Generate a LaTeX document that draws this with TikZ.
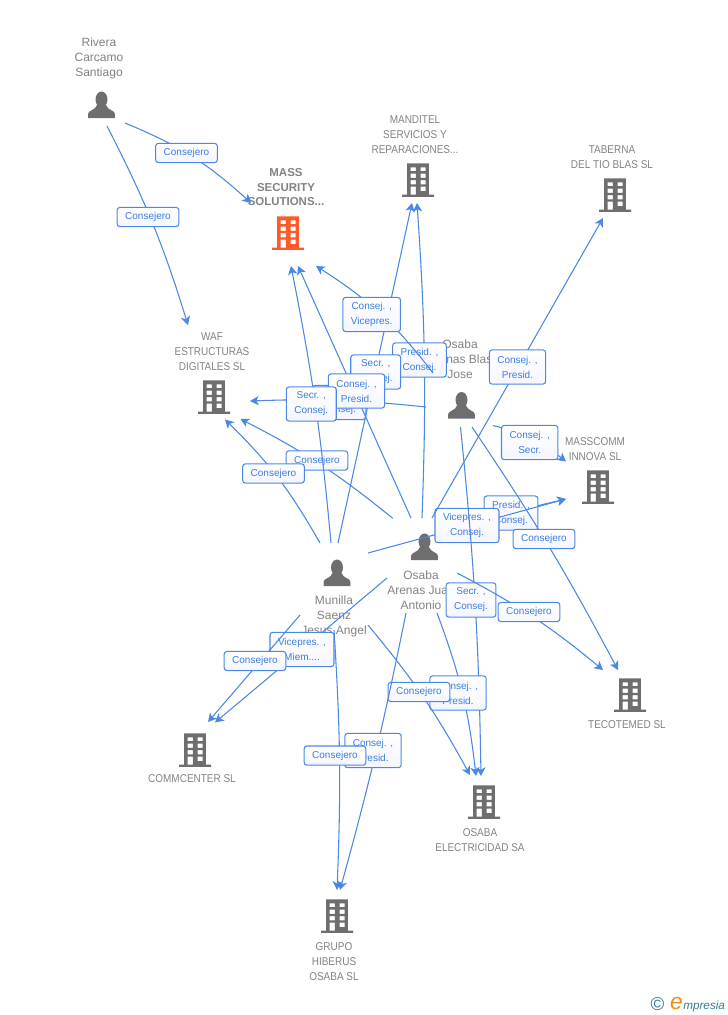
\documentclass[tikz,border=0pt]{standalone}
\usepackage{fontspec}
\setmainfont{Liberation Sans}
\newfontfamily\orgfont[FakeStretch=0.88]{Liberation Sans}
\usetikzlibrary{arrows.meta,positioning,shapes}
\definecolor{linkblue}{HTML}{4A88E4}
\definecolor{tagblue}{HTML}{3B7EE2}
\definecolor{namegray}{HTML}{828282}
\definecolor{icongray}{HTML}{6E6E6E}
\definecolor{mainorange}{HTML}{FF5A2B}
\definecolor{logoteal}{HTML}{2F7F96}
\definecolor{logoorange}{HTML}{F28A1E}
\tikzset{
    %Define standard arrow tip
    >={Stealth[length=6.5pt,width=7pt,inset=1.8pt]},
    %Define style for company icons
    company/.style={
           rectangle,
           inner sep=0pt,
           minimum width=27pt,
           minimum height=27pt,
           path picture={
             \fill[#1,even odd rule,shift={(path picture bounding box.center)}]
               (-10.8,-16.7) rectangle (10.8,14.7) (-16,14.7) rectangle (16,16.9)
               (-7.4,-12.7) rectangle (-2.2,-8.8) (2.6,-12.7) rectangle (7.5,-8.8)
               (-7.4,-6.5) rectangle (-2.2,-2.2) (2.6,-6.5) rectangle (7.5,-2.2)
               (-7.4,0) rectangle (-2.2,4.3) (2.6,0) rectangle (7.5,4.3)
               (-7.4,6.7) rectangle (-2.2,14.7) (2.6,6.7) rectangle (7.5,11);
           }},
    company/.default=icongray,
    %Define style for person icons
    person/.style={
           rectangle,
           inner sep=0pt,
           minimum width=24pt,
           minimum height=24pt,
           path picture={
             \fill[icongray,shift={(path picture bounding box.center)}]
               (0,-5.5) ellipse [x radius=6,y radius=8]
               (-13.4,13.2) -- (-13.4,9) .. controls (-13.4,5) and (-6,5.5) .. (-4.5,0)
               -- (4.5,0) .. controls (6,5.5) and (13.4,5) .. (13.4,9) -- (13.4,13.2) -- cycle;
           }},
    % Define text styles
    orgname/.style={
           align=center,
           inner sep=0pt,
           text=namegray,
           font=\orgfont\fontsize{8.5}{11.25}\selectfont},
    mainname/.style={
           align=center,
           inner sep=0pt,
           text=namegray,
           font=\bfseries\fontsize{8.6}{10.9}\selectfont},
    personname/.style={
           align=center,
           inner sep=0pt,
           text=namegray,
           font=\fontsize{9}{11.25}\selectfont},
    % Define style for role boxes
    role/.style={
           rectangle,
           rounded corners=2pt,
           draw=linkblue,
           line width=.8pt,
           top color=white,
           bottom color=blue!4!white,
           inner xsep=6pt,
           inner ysep=0pt,
           minimum height=14.4pt,
           align=center,
           text=tagblue,
           font=\fontsize{7.5}{11.25}\selectfont},
    roletwo/.style={role,minimum height=25.6pt},
    % Define arrow style
    pil/.style={
           ->,
           linkblue,
           line width=.8pt}
}
\begin{document}
\begin{tikzpicture}[x=.75pt,y=-.75pt]
\useasboundingbox (0,0) rectangle (728,1015);
% people
\node[person](rivera) at (101.5,105){};
\node[person](blas) at (461.5,405.5){};
\node[person](juan) at (424.5,547){};
\node[person](munilla) at (337,573){};
% companies
\node[company=mainorange](mass) at (288,233){};
\node[company](manditel) at (418,180){};
\node[company](taberna) at (615,195){};
\node[company](waf) at (214,397){};
\node[company](masscomm) at (598,487){};
\node[company](tecotemed) at (630,695){};
\node[company](elec) at (484,802){};
\node[company](commcenter) at (195,750){};
\node[company](grupo) at (337,916){};
% names
\node[personname](riveraname) at (99,58){Rivera\\Carcamo\\Santiago};
\node[personname](blasname) at (460,359){Osaba\\Arenas Blas\\Jose};
\node[personname](juanname) at (421,590){Osaba\\Arenas Juan\\Antonio};
\node[personname](munillaname) at (334,616){Munilla\\Saenz\\Jesus Angel};
\node[mainname](massname) at (286,187.5){MASS\\SECURITY\\SOLUTIONS...};
\node[orgname](manditelname) at (415,135){MANDITEL\\SERVICIOS Y\\REPARACIONES...};
\node[orgname](tabernaname) at (612,157.5){TABERNA\\DEL TIO BLAS SL};
\node[orgname](wafname) at (212,352){WAF\\ESTRUCTURAS\\DIGITALES SL};
\node[orgname](masscommname) at (595,449.5){MASSCOMM\\INNOVA SL};
\node[orgname](tecotemedname) at (627,725){TECOTEMED SL};
\node[orgname](elecname) at (480,840.5){OSABA\\ELECTRICIDAD SA};
\node[orgname](commcentername) at (192,779){COMMCENTER SL};
\node[orgname](gruponame) at (334,962){GRUPO\\HIBERUS\\OSABA SL};
% connector ends
\coordinate(rivera1) at (125,123);
\coordinate(rivera2) at (107,126);
\coordinate(blas1) at (426,407);
\coordinate(blas2) at (433,373);
\coordinate(blas3) at (493,425.5);
\coordinate(blas4) at (472,427);
\coordinate(blas5) at (460.5,427);
\coordinate(juan1) at (422,518);
\coordinate(juan2) at (392.7,518.3);
\coordinate(juan3) at (411,518);
\coordinate(juan4) at (432,518);
\coordinate(juan5) at (456,525);
\coordinate(juan6) at (457,573);
\coordinate(juan7) at (437,613);
\coordinate(juan8) at (406,613);
\coordinate(juan9) at (387,578);
\coordinate(munilla1) at (338,543);
\coordinate(munilla2) at (320,543);
\coordinate(munilla3) at (331,543);
\coordinate(munilla4) at (368,553);
\coordinate(munilla5) at (368,625);
\coordinate(munilla6) at (334,630);
\coordinate(munilla7) at (300,615);
\coordinate(mass1) at (251,203);
\coordinate(mass2) at (291,266);
\coordinate(mass3) at (298,266);
\coordinate(mass4) at (316,266);
\coordinate(manditel1) at (412,203);
\coordinate(manditel2) at (417,203);
\coordinate(taberna1) at (603,218);
\coordinate(waf1) at (188,325);
\coordinate(waf2) at (250,401);
\coordinate(waf3) at (225,419.5);
\coordinate(waf4) at (240.5,419);
\coordinate(masscomm1) at (566,461.5);
\coordinate(masscomm2) at (566,499);
\coordinate(tecotemed1) at (603,670);
\coordinate(tecotemed2) at (618,670);
\coordinate(elec1) at (470,775);
\coordinate(elec2) at (476,776);
\coordinate(elec3) at (481,776);
\coordinate(commcenter1) at (208,722);
\coordinate(commcenter2) at (215,722.5);
\coordinate(grupo1) at (337,890);
\coordinate(grupo2) at (340,890);
% connectors, each followed by its box
\draw[pil](rivera1) to[bend left=10] (mass1);
\node[role](r1) at (186.5,153){Consejero};
\draw[pil](rivera2) to[bend left=5] (waf1);
\node[role](r2) at (148,217){Consejero};
\draw[pil](blas1) to[bend right=4] (waf2);
\node[roletwo](r3) at (339,402.5){Presid. ,\\Consej.};
\draw[pil](juan1) to[bend right=3] (manditel2);
\node[roletwo](r4) at (419.5,360){Presid. ,\\Consej.};
\draw[pil](munilla1) -- (manditel1);
\node[roletwo](r5) at (375.7,372){Secr. ,\\Consej.};
\draw[pil](juan2) to[bend right=6] (waf4);
\node[role](r6) at (317,460.5){Consejero};
\draw[pil](munilla2) to[bend right=8] (waf3);
\node[role](r7) at (273.5,473.5){Consejero};
\draw[pil](juan3) -- (mass3);
\node[roletwo](r8) at (356.5,391){Consej. ,\\Presid.};
\draw[pil](munilla3) to[bend right=3] (mass2);
\node[roletwo](r9) at (311.3,404){Secr. ,\\Consej.};
\draw[pil](blas2) to[bend right=10] (mass4);
\node[roletwo](r10) at (371.7,314.5){Consej. ,\\Vicepres.};
\draw[pil](juan5) -- (masscomm2);
\node[roletwo](r11) at (511,513){Presid. ,\\Consej.};
\draw[pil](munilla4) -- (masscomm2);
\node[roletwo](r12) at (467,525.5){Vicepres. ,\\Consej.};
\draw[pil](blas4) to[bend left=3] (tecotemed2);
\node[role](r13) at (544,539){Consejero};
\draw[pil](blas3) to[bend left=12] (masscomm1);
\node[roletwo](r14) at (529.7,442.5){Consej. ,\\Secr.};
\draw[pil](juan4) -- (taberna1);
\node[roletwo](r15) at (517.5,367){Consej. ,\\Presid.};
\draw[pil](blas5) to[bend left=2.4] (elec3);
\node[roletwo](r16) at (471,600){Secr. ,\\Consej.};
\draw[pil](juan6) to[bend left=6] (tecotemed1);
\node[role](r17) at (529,612){Consejero};
\draw[pil](juan7) to[bend left=7] (elec2);
\node[roletwo](r18) at (458,693){Consej. ,\\Presid.};
\draw[pil](munilla5) to[bend left=5.5] (elec1);
\node[role](r19) at (419,692){Consejero};
\draw[pil](juan8) to[bend left=2] (grupo2);
\node[roletwo](r20) at (373,750.5){Consej. ,\\Presid.};
\draw[pil](munilla6) to[bend left=3] (grupo1);
\node[role](r21) at (335,755.6){Consejero};
\draw[pil](juan9) -- (commcenter2);
\node[roletwo](r22) at (302,649.5){Vicepres. ,\\Miem....};
\draw[pil](munilla7) -- (commcenter1);
\node[role](r23) at (255,661){Consejero};
% logo
\node[text=logoteal,font=\fontsize{14}{14}\selectfont,inner sep=0pt](copyright) at (657.5,1004){©};
\node[text=logoorange,font=\itshape\fontsize{17}{17}\selectfont,anchor=base east,inner sep=0pt](logoe) at (683,1009){e};
\node[text=logoteal,font=\itshape\fontsize{8.8}{10}\selectfont,anchor=base west,inner sep=0pt](logotext) at (logoe.base east){mpresia};
\end{tikzpicture}
\end{document}
